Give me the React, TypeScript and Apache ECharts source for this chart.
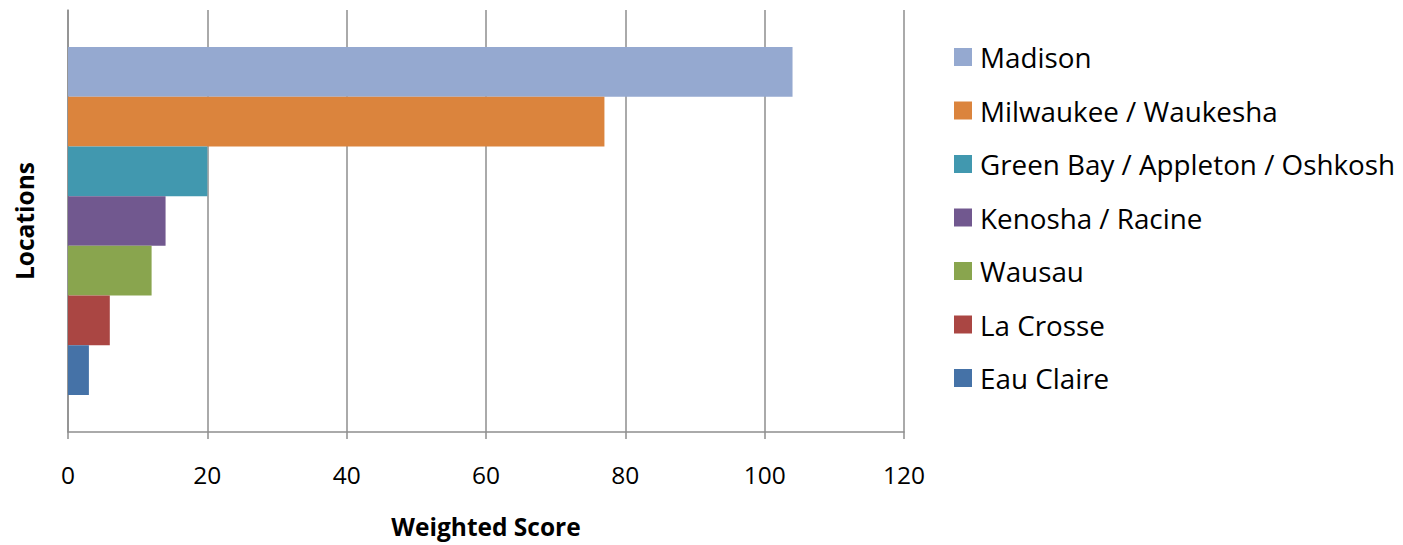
import React, { useEffect, useRef } from "react";
import * as echarts from "echarts";

const locations = [
  "Madison",
  "Milwaukee / Waukesha",
  "Green Bay / Appleton / Oshkosh",
  "Kenosha / Racine",
  "Wausau",
  "La Crosse",
  "Eau Claire",
];
const scores = [104, 77, 20, 14, 12, 6, 3];
const colors = ["#95A9D0", "#DB843D", "#4198AF", "#71588F", "#89A54E", "#AA4643", "#4572A7"];
const xTicks = { min: 0, max: 120, interval: 20 };

const FONT = "Open Sans";

export default function App() {
  const ref = useRef<HTMLDivElement>(null);
  useEffect(() => {
    if (!ref.current) return;
    const chart = echarts.init(ref.current, undefined, { renderer: "svg" });
    const series = locations.map((name, i) => ({
      name,
      type: "bar",
      data: [scores[i]],
      barWidth: 49.7,
      barGap: "0%",
      itemStyle: { color: colors[i] },
    }));
    chart.setOption({
      animation: false,
      textStyle: { fontFamily: FONT },
      grid: { left: 68, right: 499, top: 10, bottom: 113, containLabel: false, outerBoundsMode: "none" },
      legend: {
        orient: "vertical",
        left: 949,
        top: 38,
        data: locations,
        itemWidth: 18,
        itemHeight: 18,
        itemGap: 25.5,
        icon: "rect",
        textStyle: { fontFamily: FONT, fontSize: 27.8, lineHeight: 28, color: "#000", padding: [0, 0, 0, 3] },
      },
      xAxis: {
        type: "value",
        min: xTicks.min,
        max: xTicks.max,
        interval: xTicks.interval,
        name: "Weighted Score",
        nameLocation: "middle",
        nameGap: 82,
        nameTextStyle: { fontFamily: FONT, fontSize: 24.5, fontWeight: "bold", color: "#000" },
        axisLine: { show: true, lineStyle: { color: "#8e8e8e", width: 1.5 } },
        axisTick: { show: true, length: 7, lineStyle: { color: "#8e8e8e", width: 1.5 } },
        axisLabel: { fontFamily: FONT, fontSize: 24.5, color: "#000", margin: 30 },
        splitLine: { show: true, lineStyle: { color: "#8e8e8e", width: 1.5 } },
      },
      yAxis: {
        type: "category",
        data: [""],
        name: "Locations",
        nameLocation: "middle",
        nameGap: 31,
        nameRotate: 90,
        nameTextStyle: { fontFamily: FONT, fontSize: 24.5, fontWeight: "bold", color: "#000" },
        axisLine: { show: true, lineStyle: { color: "#8e8e8e", width: 1.5 } },
        axisTick: { show: false },
        axisLabel: { show: false },
        splitLine: { show: false },
      },
      series,
    });
    return () => chart.dispose();
  }, []);
  return (
    <div
      ref={ref}
      style={{ position: "fixed", left: 0, top: 0, width: 1403, height: 545, background: "#fff" }}
    />
  );
}
